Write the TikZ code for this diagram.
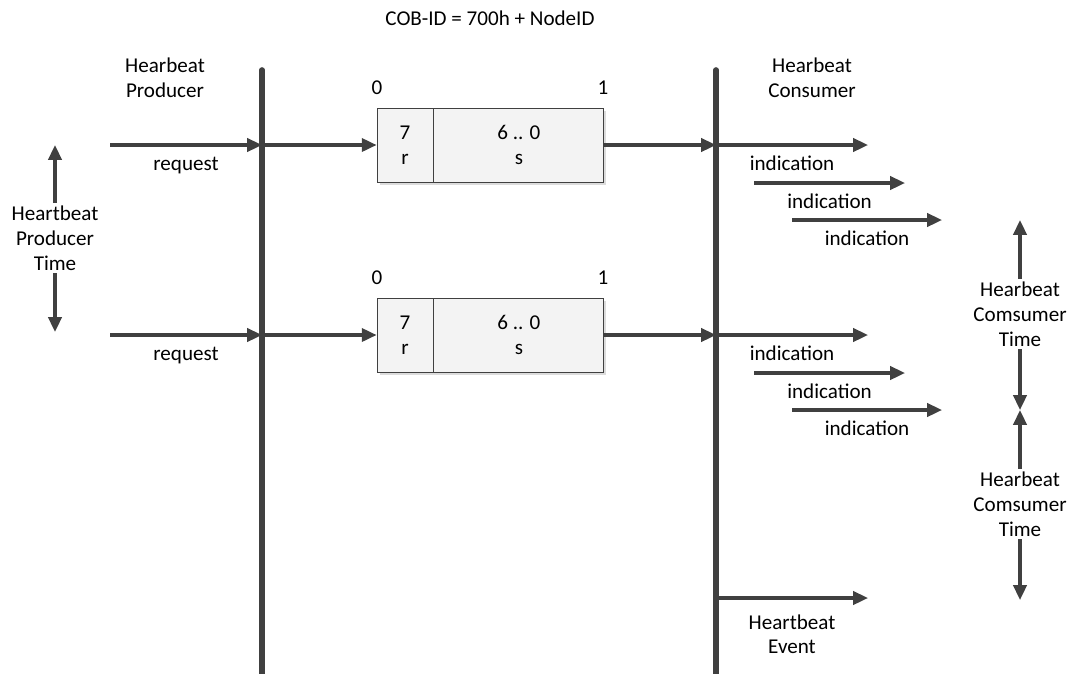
\documentclass[tikz,border=0pt]{standalone}
\usepackage{fontspec}
\setmainfont{Carlito}
\usepackage{tikz}
\usetikzlibrary{arrows.meta}
\definecolor{LineGray}{HTML}{404040}
\definecolor{BoxFill}{HTML}{F3F3F3}
\definecolor{ShadowGray}{HTML}{DCDCDC}

\begin{document}
\begin{tikzpicture}[x=0.025cm, y=-0.025cm,
    font=\fontsize{15}{17.7}\selectfont,
    txt/.style={align=center, inner sep=2pt, text=black},
    sig/.style={-{Triangle[length=0.37cm, width=0.33cm]}, LineGray, line width=2.2pt},
    bar/.style={LineGray, line width=4pt, line cap=round},
    field/.style={draw=LineGray, fill=BoxFill, line width=0.6pt, align=center,
      minimum height=1.85cm, inner sep=0pt, text=black}]
  \useasboundingbox (0,0) rectangle (1070,673);
  \node (cobid) at (490,18) {COB-ID = 700h + NodeID};
  \node[txt] (prodname) at (165,78) {Hearbeat\\Producer};
  \node[txt] (consname) at (812,78) {Hearbeat\\Consumer};
  % producer / consumer time lines
  \coordinate (prodtop) at (262,70);
  \coordinate (prodbot) at (262,676);
  \coordinate (constop) at (716,70);
  \coordinate (consbot) at (716,676);
  \draw[bar] (prodtop) -- (prodbot);
  \draw[bar] (constop) -- (consbot);
  % one heartbeat message per row
  \foreach \row/\y in {a/145, b/335}{
    \coordinate (src\row) at (110,\y);
    \coordinate (prod\row) at (262,\y);
    \coordinate (cons\row) at (716,\y);
    \coordinate (ind\row1) at (868,\y);
    \coordinate (ind\row2s) at (754,{\y+38});
    \coordinate (ind\row2) at (905,{\y+38});
    \coordinate (ind\row3s) at (792,{\y+75});
    \coordinate (ind\row3) at (942,{\y+75});
    \fill[ShadowGray] (380,{\y-34}) rectangle (606,{\y+40});
    \node[field, minimum width=1.4cm] (r\row) at (405,\y) {7\\r};
    \node[field, minimum width=4.25cm, anchor=west] (s\row) at (r\row.east) {6 .. 0\\s};
    \node (zero\row) at (377,{\y-57}) {0};
    \node (one\row) at (603,{\y-57}) {1};
    \draw[sig] (src\row) -- node[below=0.2cm, txt] {request} (prod\row);
    \draw[sig] (prod\row) -- (r\row);
    \draw[sig] (s\row) -- (cons\row);
    \draw[sig] (cons\row) -- node[below=0.17cm, txt] {indication} (ind\row1);
    \draw[sig] (ind\row2s) -- node[below=0.17cm, txt] {indication} (ind\row2);
    \draw[sig] (ind\row3s) -- node[below=0.17cm, txt] {indication} (ind\row3);
  }
  % heartbeat event
  \coordinate (evstart) at (716,598);
  \coordinate (evend) at (868,598);
  \draw[sig] (evstart) -- node[below=0.3cm, txt] {Heartbeat\\Event} (evend);
  % producer time
  \node[txt] (ptime) at (55,238) {Heartbeat\\Producer\\Time};
  \coordinate (ptimetop) at (55,145);
  \coordinate (ptimebot) at (55,332);
  \draw[sig] (ptime) -- (ptimetop);
  \draw[sig] (ptime) -- (ptimebot);
  % consumer time
  \node[txt] (ctimea) at (1020,314) {Hearbeat\\Comsumer\\Time};
  \node[txt] (ctimeb) at (1020,504) {Hearbeat\\Comsumer\\Time};
  \coordinate (ctimetop) at (1020,220);
  \coordinate (ctimemid) at (1020,410);
  \coordinate (ctimebot) at (1020,600);
  \draw[sig] (ctimea) -- (ctimetop);
  \draw[sig] (ctimea) -- (ctimemid);
  \draw[sig] (ctimeb) -- (ctimemid);
  \draw[sig] (ctimeb) -- (ctimebot);
\end{tikzpicture}
\end{document}
